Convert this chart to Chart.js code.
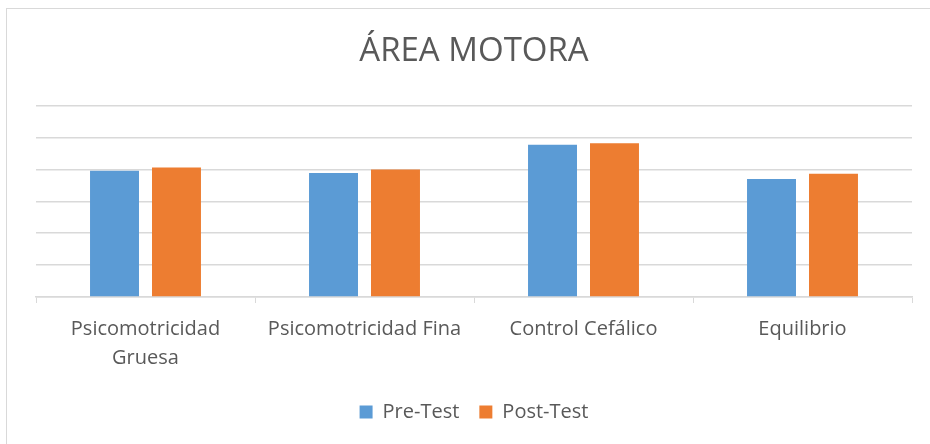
<!DOCTYPE html>
<html>
<head>
<meta charset="utf-8">
<script src="https://cdn.jsdelivr.net/npm/chart.js@4.4.1/dist/chart.umd.min.js"></script>
<style>
  html, body { margin: 0; padding: 0; background: #ffffff; }
  #wrap { position: relative; width: 930px; height: 444px; }
  #frame { position: absolute; left: 6px; top: 8px; width: 930px; height: 440px; border: 1px solid #d9d9d9; box-sizing: border-box; }
  canvas { position: absolute; left: 0; top: 0; }
</style>
</head>
<body>
<div id="wrap">
  <div id="frame"></div>
  <canvas id="c" width="930" height="444"></canvas>
</div>
<script>
const categories = [["Psicomotricidad", "Gruesa"], "Psicomotricidad Fina", "Control Cefálico", "Equilibrio"];
const preTest = [39.6, 38.9, 47.7, 37.0];
const postTest = [40.6, 40.0, 48.2, 38.6];
const seriesNames = ["Pre-Test", "Post-Test"];
const titleText = "ÁREA MOTORA";

const textColor = "#595959";
const fontFamily = "'Open Sans', 'Liberation Sans', sans-serif";

new Chart(document.getElementById("c"), {
  type: "bar",
  data: {
    labels: categories,
    datasets: [
      { label: seriesNames[0], data: preTest, backgroundColor: "#5B9BD5", categoryPercentage: 0.566, barPercentage: 0.79 },
      { label: seriesNames[1], data: postTest, backgroundColor: "#ED7D31", categoryPercentage: 0.566, barPercentage: 0.79 }
    ]
  },
  options: {
    responsive: false,
    animation: false,
    devicePixelRatio: 1,
    layout: { padding: { left: 36, right: 18, top: 0, bottom: 12 } },
    plugins: {
      title: {
        display: true,
        text: titleText,
        color: textColor,
        font: { family: fontFamily, size: 33, weight: 400, lineHeight: 1.2 },
        padding: { top: 32, bottom: 34 }
      },
      legend: {
        display: true,
        position: "bottom",
        labels: {
          color: textColor,
          font: { family: fontFamily, size: 20 },
          boxWidth: 13,
          boxHeight: 13,
          padding: 20
        }
      },
      tooltip: { enabled: false }
    },
    scales: {
      x: {
        grid: { display: true, drawOnChartArea: false, drawTicks: true, tickLength: 6, color: "#d9d9d9", offset: true },
        border: { display: true, color: "#d9d9d9", width: 1.5 },
        ticks: {
          color: textColor,
          font: { family: fontFamily, size: 20, lineHeight: 1.45 },
          padding: 12,
          maxRotation: 0,
          autoSkip: false
        },
        afterFit(axis) { axis.height -= 3; }
      },
      y: {
        min: 0,
        max: 60,
        ticks: { display: false, stepSize: 10 },
        grid: { color: "#d9d9d9", lineWidth: 1.5, drawTicks: false },
        border: { display: false }
      }
    }
  }
});
</script>
</body>
</html>
